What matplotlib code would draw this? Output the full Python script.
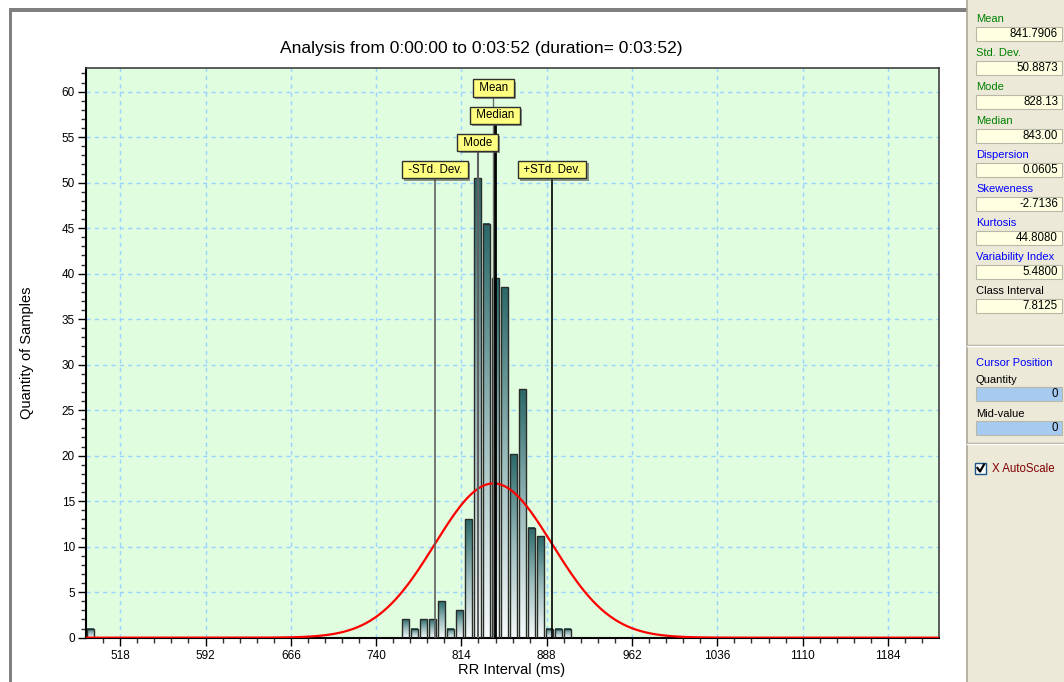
import numpy as np
import matplotlib
matplotlib.use('Agg')
import matplotlib.pyplot as plt
import matplotlib.patheffects as pe
from matplotlib.colors import LinearSegmentedColormap
from matplotlib.patches import Rectangle
from matplotlib.lines import Line2D

plt.rcParams['font.family'] = ['Liberation Sans', 'DejaVu Sans']

# histogram of RR intervals, one bar per class interval
class_interval = 7.8125
first_bin = 695.3175          # centre of the first bin of the main run
counts = [0, 0, 0, 0, 0, 0, 0, 0, 0,
          2, 1, 2, 2, 4, 1, 3, 13, 50.5, 45.5, 39.5, 38.5, 20.2, 27.3, 12.1, 11.2, 1, 1, 1,
          0, 0, 0, 0, 0, 0, 0, 0, 0, 0, 0]
outlier_bin = [492.19]
outlier_count = [1]

# statistics
mean_rr = 841.7906
sd_rr = 50.8873
mode_rr = 828.13
median_rr = 843.00

stat_names = ['Mean', 'Std. Dev.', 'Mode', 'Median', 'Dispersion', 'Skeweness',
              'Kurtosis', 'Variability Index', 'Class Interval']
stat_values = ['841.7906', '50.8873', '828.13', '843.00', '0.0605', '-2.7136',
               '44.8080', '5.4800', '7.8125']
stat_colors = ['#008000'] * 4 + ['#0000ff'] * 4 + ['black']

x_ticks = [518, 592, 666, 740, 814, 888, 962, 1036, 1110, 1184]

W, H = 1064, 682
fig = plt.figure(figsize=(W / 100, H / 100), dpi=100)
fig.patch.set_facecolor('white')


def px(x, y):
    return x / W, 1 - y / H


ax = fig.add_axes([86 / W, 1 - 637.7 / H, (939 - 86) / W, (637.7 - 68) / H])
ax.set_facecolor('#e0fde0')

centres = first_bin + class_interval * np.arange(len(counts))
all_x = np.concatenate([outlier_bin, centres])
all_y = np.concatenate([outlier_count, counts])
bar_w = 5.8

# gradient fill inside every bar
bar_cmap = LinearSegmentedColormap.from_list('bar', ['#f6fafa', '#9dbdbd', '#2c6a6a'])
grad = np.linspace(0, 1, 64).reshape(-1, 1)
for c, h in zip(all_x, all_y):
    if h > 0:
        ax.imshow(grad, cmap=bar_cmap, extent=(c - bar_w / 2, c + bar_w / 2, 0, h),
                  aspect='auto', origin='lower', zorder=2, interpolation='bilinear')
ax.bar(all_x, all_y, width=bar_w, facecolor='none', edgecolor='#2b2b2b', lw=1, zorder=3)

# normal curve fitted on the samples
xs = np.linspace(488.3, 1228.3, 800)
n_total = np.sum(all_y)
ys = n_total * class_interval / (sd_rr * np.sqrt(2 * np.pi)) * np.exp(-0.5 * ((xs - mean_rr) / sd_rr) ** 2)
ax.plot(xs, ys, color='#ff0000', lw=1.6, zorder=4)

# marker lines + labels
marks = [
    (mean_rr, 60.5, 'Mean', '#707070', 1.0),
    (median_rr, 57.5, 'Median', 'black', 2.0),
    (mode_rr, 54.5, 'Mode', '#606060', 1.5),
    (mean_rr - sd_rr, 51.5, '-STd. Dev.', '#606060', 1.2),
    (mean_rr + sd_rr, 51.5, '+STd. Dev.', 'black', 1.2),
]
for xm, ym, name, col, lw in marks:
    ax.plot([xm, xm], [0, ym - 0.8], color=col, lw=lw, zorder=5)
    t = ax.text(xm, ym - 0.1, ' ' + name + ' ', ha='center', va='center', fontsize=8.3, zorder=7,
                bbox=dict(boxstyle='square,pad=0.22', fc='#ffff80', ec='#303030', lw=1))
    t.get_bbox_patch().set_path_effects([
        pe.SimplePatchShadow(offset=(1.5, -1.5), shadow_rgbFace='#505050', alpha=0.6),
        pe.Normal()])

ax.set_xlim(488.3, 1228.3)
ax.set_ylim(0, 62.6)
ax.set_xticks(x_ticks)
ax.set_xticks(np.arange(503.2, 1228.3, 14.8), minor=True)
ax.set_yticks(np.arange(0, 61, 5))
ax.set_yticks(np.arange(0, 63, 1), minor=True)
ax.tick_params(axis='both', which='major', labelsize=8.5, length=6, width=1, color='black')
ax.tick_params(axis='both', which='minor', length=3.5, width=1, color='#303030')
ax.tick_params(axis='x', pad=2.5)
ax.tick_params(axis='y', pad=2)
ax.grid(True, which='major', color='#99d3ff', lw=1, linestyle=(0, (3, 3)), zorder=1)
ax.set_axisbelow(True)
for side in ['left', 'bottom']:
    ax.spines[side].set_linewidth(1.5)
    ax.spines[side].set_color('black')
for side in ['top', 'right']:
    ax.spines[side].set_linewidth(1.2)
    ax.spines[side].set_color('#404040')

fig.text(*px(481, 49), 'Analysis from 0:00:00 to 0:03:52 (duration= 0:03:52)',
         ha='center', va='center', fontsize=12.5)
fig.text(*px(27, 353), 'Quantity of Samples', rotation=90, ha='center', va='center', fontsize=10.5)
fig.text(*px(512, 670), 'RR Interval (ms)', ha='center', va='center', fontsize=10.5)

# gray frame of the chart window
fig.add_artist(Rectangle(px(9, 12), (967 - 9) / W, 4 / H, transform=fig.transFigure,
                         fc='#808080', ec='none'))
fig.add_artist(Rectangle(px(9, 682), 3 / W, (682 - 8) / H, transform=fig.transFigure,
                         fc='#808080', ec='none'))

# right hand statistics panel
fig.add_artist(Rectangle(px(967, 682), (W - 967) / W, 1, transform=fig.transFigure,
                         fc='#ece9d8', ec='none'))
fig.add_artist(Line2D([967 / W, 967 / W], [0, 1], transform=fig.transFigure,
                      color='#aca899', lw=1.2))

for i, (name, val, col) in enumerate(zip(stat_names, stat_values, stat_colors)):
    top = 26.7 + 34 * i
    fig.text(*px(976, top - 8), name, color=col, fontsize=8, ha='left', va='center')
    fig.add_artist(Rectangle(px(976, top + 14), 86 / W, 14 / H, transform=fig.transFigure,
                             fc='#ffffe1', ec='#b8b8a8', lw=0.8))
    fig.text(*px(1058, top + 7), val, fontsize=8.3, ha='right', va='center')

for yy in [345, 443]:
    fig.add_artist(Line2D([967 / W, 1], [1 - yy / H] * 2, transform=fig.transFigure,
                          color='#aca899', lw=1))
    fig.add_artist(Line2D([967 / W, 1], [1 - (yy + 1) / H] * 2, transform=fig.transFigure,
                          color='white', lw=1))

fig.text(*px(976, 363), 'Cursor Position', color='#0000ff', fontsize=8, ha='left', va='center')
for name, top in [('Quantity', 387), ('Mid-value', 421)]:
    fig.text(*px(976, top - 7), name, fontsize=8, ha='left', va='center')
    fig.add_artist(Rectangle(px(976, top + 14), 86 / W, 14 / H, transform=fig.transFigure,
                             fc='#a6caf0', ec='#b8b8a8', lw=0.8))
    fig.text(*px(1058, top + 7), '0', fontsize=8.3, ha='right', va='center')

# checkbox
fig.add_artist(Rectangle(px(975, 474), 11 / W, 11 / H, transform=fig.transFigure,
                         fc='white', ec='#1c5180', lw=1))
fig.add_artist(Line2D([977.5 / W, 980 / W, 984 / W], [1 - 468 / H, 1 - 471.5 / H, 1 - 464.5 / H],
                      transform=fig.transFigure, color='black', lw=1.6))
fig.text(*px(992, 469), 'X AutoScale', color='#800000', fontsize=8.3, ha='left', va='center')

fig.savefig('out.png', dpi=100)
